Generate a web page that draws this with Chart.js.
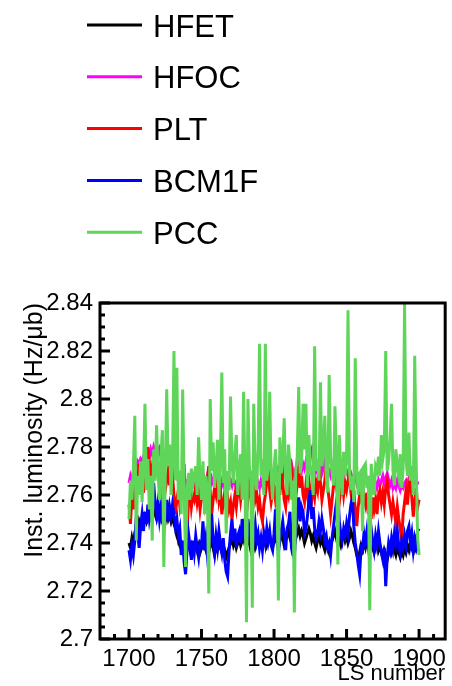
<!DOCTYPE html>
<html>
<head>
<meta charset="utf-8">
<title>Instantaneous luminosity per LS</title>
<script src="https://cdn.jsdelivr.net/npm/chart.js@4.4.1/dist/chart.umd.min.js"></script>
<style>
  html, body { margin: 0; padding: 0; background: #fff; }
  canvas { display: block; }
</style>
</head>
<body>
<canvas id="lumiChart" width="452" height="686"></canvas>
<script>
// one value per lumi section, starting at LS 1700
const firstLs = 1700;

const hfet = [
  2.740, 2.738, 2.742, 2.739, 2.744, 2.747, 2.745, 2.749, 2.747, 2.750,
  2.748, 2.751, 2.749, 2.752, 2.750, 2.753, 2.751, 2.754, 2.752, 2.750,
  2.753, 2.751, 2.754, 2.750, 2.752, 2.749, 2.753, 2.750, 2.752, 2.749,
  2.751, 2.748, 2.746, 2.743, 2.741, 2.739, 2.740, 2.737, 2.739, 2.736,
  2.738, 2.740, 2.737, 2.739, 2.736, 2.738, 2.740, 2.737, 2.739, 2.736,
  2.738, 2.741, 2.739, 2.737, 2.740, 2.736, 2.739, 2.742, 2.738, 2.735,
  2.739, 2.737, 2.740, 2.738, 2.736, 2.739, 2.737, 2.734, 2.736, 2.738,
  2.740, 2.742, 2.739, 2.741, 2.738, 2.740, 2.742, 2.739, 2.741, 2.743,
  2.741, 2.739, 2.742, 2.740, 2.737, 2.739, 2.741, 2.738, 2.740, 2.742,
  2.739, 2.741, 2.738, 2.740, 2.742, 2.739, 2.741, 2.743, 2.740, 2.738,
  2.741, 2.743, 2.740, 2.738, 2.741, 2.744, 2.742, 2.739, 2.741, 2.743,
  2.745, 2.742, 2.740, 2.737, 2.739, 2.742, 2.744, 2.746, 2.743, 2.745,
  2.743, 2.740, 2.742, 2.744, 2.746, 2.744, 2.741, 2.743, 2.740, 2.738,
  2.741, 2.743, 2.740, 2.742, 2.739, 2.737, 2.740, 2.738, 2.736, 2.739,
  2.741, 2.743, 2.745, 2.742, 2.744, 2.741, 2.739, 2.742, 2.744, 2.741,
  2.743, 2.740, 2.742, 2.745, 2.743, 2.740, 2.738, 2.735, 2.733, 2.736,
  2.739, 2.737, 2.740, 2.738, 2.741, 2.739, 2.737, 2.740, 2.738, 2.736,
  2.738, 2.740, 2.737, 2.739, 2.736, 2.734, 2.737, 2.735, 2.733, 2.736,
  2.738, 2.736, 2.739, 2.737, 2.735, 2.738, 2.736, 2.734, 2.737, 2.735,
  2.738, 2.736, 2.739, 2.737, 2.740, 2.738, 2.736, 2.739, 2.737, 2.738,
  2.737
];

const hfoc = [
  2.765, 2.768, 2.766, 2.770, 2.772, 2.771, 2.774, 2.773, 2.775, 2.774,
  2.776, 2.775, 2.778, 2.777, 2.776, 2.779, 2.777, 2.780, 2.778, 2.781,
  2.777, 2.779, 2.776, 2.778, 2.775, 2.777, 2.774, 2.776, 2.773, 2.775,
  2.772, 2.770, 2.768, 2.767, 2.769, 2.766, 2.768, 2.765, 2.767, 2.766,
  2.764, 2.767, 2.765, 2.768, 2.766, 2.764, 2.767, 2.765, 2.766, 2.764,
  2.766, 2.764, 2.767, 2.765, 2.768, 2.766, 2.764, 2.767, 2.765, 2.763,
  2.766, 2.768, 2.765, 2.767, 2.764, 2.766, 2.763, 2.765, 2.767, 2.764,
  2.766, 2.764, 2.767, 2.765, 2.763, 2.766, 2.768, 2.765, 2.767, 2.766,
  2.768, 2.766, 2.764, 2.767, 2.765, 2.768, 2.766, 2.764, 2.767, 2.765,
  2.763, 2.766, 2.764, 2.767, 2.765, 2.768, 2.770, 2.767, 2.765, 2.768,
  2.770, 2.768, 2.771, 2.769, 2.772, 2.770, 2.773, 2.769, 2.771, 2.768,
  2.775, 2.771, 2.773, 2.770, 2.768, 2.771, 2.773, 2.776, 2.772, 2.770,
  2.773, 2.771, 2.774, 2.772, 2.775, 2.777, 2.779, 2.774, 2.772, 2.770,
  2.772, 2.770, 2.773, 2.769, 2.771, 2.774, 2.776, 2.772, 2.770, 2.768,
  2.771, 2.773, 2.777, 2.774, 2.772, 2.770, 2.773, 2.771, 2.769, 2.772,
  2.770, 2.768, 2.771, 2.769, 2.767, 2.766, 2.768, 2.765, 2.767, 2.766,
  2.764, 2.767, 2.765, 2.768, 2.766, 2.764, 2.766, 2.763, 2.765, 2.767,
  2.765, 2.763, 2.766, 2.764, 2.766, 2.768, 2.765, 2.767, 2.769, 2.766,
  2.764, 2.766, 2.763, 2.765, 2.763, 2.766, 2.764, 2.762, 2.764, 2.763,
  2.765, 2.766, 2.764, 2.767, 2.766, 2.765, 2.766, 2.765, 2.766, 2.765,
  2.765
];

const plt = [
  2.756, 2.748, 2.760, 2.754, 2.763, 2.768, 2.762, 2.773, 2.766, 2.770,
  2.761, 2.772, 2.768, 2.780, 2.774, 2.766, 2.771, 2.777, 2.769, 2.776,
  2.770, 2.765, 2.772, 2.764, 2.768, 2.762, 2.766, 2.770, 2.764, 2.776,
  2.768, 2.760, 2.752, 2.758, 2.762, 2.756, 2.761, 2.766, 2.773, 2.751,
  2.745, 2.757, 2.762, 2.755, 2.760, 2.758, 2.763, 2.757, 2.761, 2.754,
  2.759, 2.764, 2.757, 2.762, 2.766, 2.772, 2.761, 2.752, 2.758, 2.763,
  2.760, 2.765, 2.758, 2.762, 2.752, 2.757, 2.761, 2.755, 2.759, 2.754,
  2.757, 2.750, 2.756, 2.760, 2.755, 2.761, 2.764, 2.758, 2.763, 2.766,
  2.769, 2.762, 2.758, 2.764, 2.760, 2.766, 2.763, 2.758, 2.761, 2.755,
  2.758, 2.752, 2.749, 2.756, 2.760, 2.766, 2.770, 2.762, 2.757, 2.761,
  2.764, 2.758, 2.762, 2.768, 2.760, 2.772, 2.765, 2.758, 2.755, 2.763,
  2.760, 2.766, 2.770, 2.762, 2.756, 2.759, 2.765, 2.772, 2.763, 2.768,
  2.760, 2.757, 2.764, 2.760, 2.766, 2.761, 2.758, 2.763, 2.759, 2.765,
  2.762, 2.771, 2.765, 2.758, 2.762, 2.766, 2.772, 2.763, 2.758, 2.752,
  2.758, 2.764, 2.770, 2.763, 2.760, 2.757, 2.762, 2.766, 2.760, 2.765,
  2.762, 2.766, 2.769, 2.761, 2.757, 2.762, 2.753, 2.747, 2.755, 2.760,
  2.758, 2.764, 2.759, 2.756, 2.761, 2.752, 2.757, 2.750, 2.759, 2.754,
  2.758, 2.752, 2.760, 2.762, 2.757, 2.761, 2.756, 2.763, 2.766, 2.760,
  2.756, 2.752, 2.757, 2.753, 2.748, 2.755, 2.750, 2.746, 2.741, 2.752,
  2.757, 2.762, 2.756, 2.764, 2.768, 2.759, 2.751, 2.757, 2.763, 2.755,
  2.758
];

const bcm1f = [
  2.737, 2.733, 2.739, 2.735, 2.741, 2.751, 2.744, 2.738, 2.747, 2.752,
  2.745, 2.753, 2.748, 2.756, 2.750, 2.754, 2.759, 2.765, 2.757, 2.752,
  2.757, 2.750, 2.755, 2.748, 2.756, 2.752, 2.758, 2.749, 2.755, 2.751,
  2.756, 2.752, 2.747, 2.750, 2.743, 2.746, 2.735, 2.741, 2.732, 2.727,
  2.737, 2.744, 2.739, 2.733, 2.741, 2.736, 2.743, 2.738, 2.734, 2.740,
  2.739, 2.749, 2.737, 2.742, 2.735, 2.740, 2.746, 2.752, 2.741, 2.736,
  2.743, 2.738, 2.745, 2.740, 2.736, 2.742, 2.733, 2.728, 2.726, 2.737,
  2.744, 2.750, 2.741, 2.746, 2.738, 2.743, 2.745, 2.740, 2.750, 2.744,
  2.749, 2.742, 2.750, 2.745, 2.739, 2.736, 2.743, 2.748, 2.741, 2.744,
  2.738, 2.742, 2.737, 2.744, 2.740, 2.746, 2.741, 2.745, 2.739, 2.737,
  2.744, 2.754, 2.742, 2.736, 2.741, 2.745, 2.749, 2.743, 2.737, 2.746,
  2.748, 2.753, 2.738, 2.735, 2.734, 2.745, 2.752, 2.759, 2.749, 2.755,
  2.753, 2.744, 2.746, 2.751, 2.757, 2.762, 2.750, 2.755, 2.746, 2.742,
  2.744, 2.749, 2.745, 2.750, 2.746, 2.741, 2.743, 2.738, 2.740, 2.735,
  2.742, 2.747, 2.752, 2.757, 2.761, 2.749, 2.744, 2.741, 2.746, 2.743,
  2.748, 2.744, 2.751, 2.756, 2.759, 2.747, 2.740, 2.736, 2.731, 2.727,
  2.738, 2.737, 2.744, 2.740, 2.745, 2.739, 2.743, 2.746, 2.741, 2.737,
  2.743, 2.739, 2.745, 2.740, 2.736, 2.733, 2.738, 2.722, 2.734, 2.740,
  2.737, 2.742, 2.738, 2.744, 2.740, 2.745, 2.739, 2.736, 2.741, 2.738,
  2.743, 2.739, 2.745, 2.747, 2.740, 2.744, 2.737, 2.742, 2.739, 2.745,
  2.746
];

const pcc = [
  2.750, 2.766, 2.758, 2.771, 2.793, 2.741, 2.768, 2.760, 2.774, 2.757,
  2.771, 2.798, 2.762, 2.775, 2.754, 2.768, 2.741, 2.779, 2.766, 2.789,
  2.770, 2.758, 2.776, 2.787, 2.730, 2.769, 2.804, 2.772, 2.781, 2.760,
  2.774, 2.820, 2.766, 2.813, 2.758, 2.770, 2.752, 2.804, 2.765, 2.730,
  2.762, 2.769, 2.758, 2.771, 2.764, 2.768, 2.772, 2.760, 2.784, 2.766,
  2.758, 2.774, 2.752, 2.768, 2.762, 2.719, 2.800, 2.770, 2.782, 2.763,
  2.771, 2.783, 2.758, 2.776, 2.811, 2.765, 2.779, 2.744, 2.770, 2.762,
  2.801, 2.773, 2.765, 2.778, 2.785, 2.760, 2.771, 2.777, 2.758, 2.803,
  2.765, 2.707, 2.800, 2.772, 2.766, 2.713, 2.798, 2.770, 2.762, 2.779,
  2.823, 2.768, 2.775, 2.760, 2.823, 2.766, 2.772, 2.803, 2.768, 2.758,
  2.771, 2.779, 2.764, 2.716, 2.784, 2.769, 2.775, 2.792, 2.767, 2.760,
  2.781, 2.772, 2.758, 2.766, 2.711, 2.770, 2.776, 2.805, 2.769, 2.774,
  2.798, 2.779, 2.798, 2.763, 2.785, 2.772, 2.768, 2.760, 2.822, 2.770,
  2.775, 2.766, 2.807, 2.772, 2.779, 2.793, 2.768, 2.761, 2.810, 2.775,
  2.770, 2.764, 2.797, 2.776, 2.731, 2.785, 2.771, 2.760, 2.778, 2.768,
  2.774, 2.837, 2.770, 2.762, 2.768, 2.757, 2.817, 2.772, 2.760, 2.769,
  2.770, 2.745, 2.772, 2.773, 2.763, 2.768, 2.712, 2.773, 2.766, 2.760,
  2.772, 2.770, 2.776, 2.768, 2.785, 2.775, 2.779, 2.820, 2.770, 2.774,
  2.783, 2.798, 2.770, 2.764, 2.779, 2.772, 2.768, 2.777, 2.763, 2.771,
  2.840, 2.775, 2.768, 2.786, 2.766, 2.772, 2.760, 2.818, 2.774, 2.742,
  2.735
];

const xTickValues = [1700, 1750, 1800, 1850, 1900];
const yTickValues = [2.7, 2.72, 2.74, 2.76, 2.78, 2.8, 2.82, 2.84];

const labelFont = '"Liberation Sans", Arial, Helvetica, sans-serif';

function toPoints(values) {
  return values.map((v, i) => ({ x: firstLs + i, y: v }));
}

function series(label, values, color, order) {
  return {
    label: label,
    data: toPoints(values),
    borderColor: color,
    backgroundColor: color,
    borderWidth: 3,
    pointRadius: 0,
    tension: 0,
    fill: false,
    order: order
  };
}

// black frame with inward major/minor ticks on the left and bottom edges
const frameTicks = {
  id: 'frameTicks',
  afterDatasetsDraw(chart) {
    const { ctx, chartArea: a, scales: { x, y } } = chart;
    ctx.save();
    ctx.strokeStyle = '#000';
    ctx.lineWidth = 3;
    ctx.lineCap = 'butt';
    ctx.beginPath();
    for (let k = 0; k <= 28; k++) {
      const py = y.getPixelForValue(2.7 + k * 0.005);
      const len = k % 4 === 0 ? 10 : 5;
      ctx.moveTo(a.left, py);
      ctx.lineTo(a.left + len, py);
    }
    for (let ls = 1690; ls <= 1910; ls += 10) {
      const px = x.getPixelForValue(ls);
      const len = ls % 50 === 0 ? 10 : 5;
      ctx.moveTo(px, a.bottom);
      ctx.lineTo(px, a.bottom - len);
    }
    ctx.stroke();
    ctx.strokeRect(a.left, a.top, a.right - a.left, a.bottom - a.top);
    ctx.restore();
  }
};

// legend stacked above the plot, one row per detector
const stackedLegend = {
  id: 'stackedLegend',
  afterDraw(chart) {
    const ctx = chart.ctx;
    ctx.save();
    ctx.font = '31px ' + labelFont;
    ctx.textBaseline = 'alphabetic';
    ctx.textAlign = 'left';
    chart.data.datasets.forEach((ds, i) => {
      const rowY = 25 + i * 51.8;
      ctx.strokeStyle = ds.borderColor;
      ctx.lineWidth = 3;
      ctx.beginPath();
      ctx.moveTo(87, rowY);
      ctx.lineTo(142, rowY);
      ctx.stroke();
      ctx.fillStyle = '#000';
      ctx.fillText(ds.label, 153, rowY + 11.5);
    });
    ctx.restore();
  }
};

new Chart(document.getElementById('lumiChart'), {
  type: 'line',
  data: {
    datasets: [
      series('HFET', hfet, '#000000', 5),
      series('HFOC', hfoc, '#ff00ff', 4),
      series('PLT', plt, '#ff0000', 3),
      series('BCM1F', bcm1f, '#0000ff', 2),
      series('PCC', pcc, '#5fd55a', 1)
    ]
  },
  options: {
    responsive: false,
    animation: false,
    layout: { padding: { top: 303, right: 3, left: 0, bottom: 0 } },
    plugins: {
      legend: { display: false },
      tooltip: { enabled: false }
    },
    scales: {
      x: {
        type: 'linear',
        min: 1680,
        max: 1918,
        grid: { display: false, drawTicks: false },
        border: { display: false },
        afterBuildTicks: (scale) => { scale.ticks = xTickValues.map(v => ({ value: v })); },
        afterFit: (scale) => { scale.height = 47; },
        ticks: {
          color: '#000',
          font: { family: labelFont, size: 24 },
          padding: 6,
          maxRotation: 0,
          autoSkip: false,
          callback: (value) => String(value)
        },
        title: {
          display: true,
          text: 'LS number',
          align: 'end',
          color: '#000',
          font: { family: labelFont, size: 22, lineHeight: 1 },
          padding: { top: 0, bottom: 1 }
        }
      },
      y: {
        min: 2.7,
        max: 2.84,
        grid: { display: false, drawTicks: false },
        border: { display: false },
        afterBuildTicks: (scale) => { scale.ticks = yTickValues.map(v => ({ value: v })); },
        afterFit: (scale) => { scale.width = 100; },
        ticks: {
          color: '#000',
          font: { family: labelFont, size: 24 },
          padding: 7,
          autoSkip: false,
          callback: (value) => String(value)
        },
        title: {
          display: true,
          text: 'Inst. luminosity (Hz/μb)',
          align: 'end',
          color: '#000',
          font: { family: labelFont, size: 25, lineHeight: 1 },
          padding: { top: 23, bottom: 0 }
        }
      }
    }
  },
  plugins: [frameTicks, stackedLegend]
});
</script>
</body>
</html>
